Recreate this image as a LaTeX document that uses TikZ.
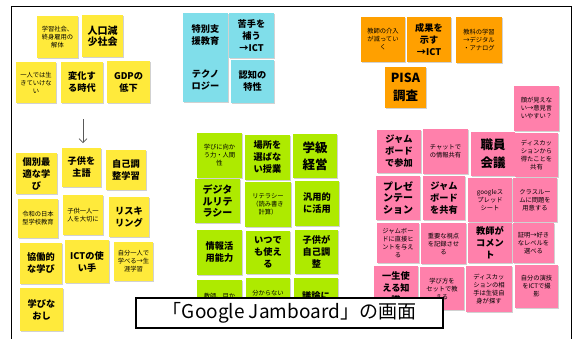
\documentclass[tikz,border=0pt]{standalone}
\usepackage{fontspec}
\setmainfont{Noto Sans CJK JP}
\usetikzlibrary{arrows.meta,shadows}
\definecolor{yel}{RGB}{255,234,59}
\definecolor{blu}{RGB}{128,222,234}
\definecolor{grn}{RGB}{174,234,0}
\definecolor{org}{RGB}{255,160,0}
\definecolor{pnk}{RGB}{255,128,171}
\newcommand\stickynote[7]{%
  \node[#1, minimum width={(#5-#3)*1pt}, minimum height={(#6-#4)*1pt}] (#2) at ({(#3+#5)/2},{(#4+#6)/2}) {#7};}
\tikzset{
  note/.style={draw=none, inner sep=0pt, align=center, text=black,
    drop shadow={shadow xshift=0.6pt, shadow yshift=-0.8pt, fill=black, opacity=0.18}},
  ynote/.style={note, fill=yel},
  bnote/.style={note, fill=blu},
  gnote/.style={note, fill=grn},
  onote/.style={note, fill=org},
  pnote/.style={note, fill=pnk},
  fsS/.style={font=\fontsize{6.3}{8}\selectfont},
  fsM/.style={font=\fontsize{9.2}{12}\selectfont\bfseries},
  fsML/.style={font=\fontsize{10}{11.5}\selectfont\bfseries},
  fsL/.style={font=\fontsize{12.5}{17.5}\selectfont\bfseries},
}
\begin{document}
\begin{tikzpicture}[x=1pt,y=-1pt]
\useasboundingbox[fill=white] (0,0) rectangle (573,338);
% frame
\coordinate (fbl) at (11.5,339);
\coordinate (ftl) at (11.5,6.5);
\coordinate (ftr) at (571.5,6.5);
\coordinate (fbr) at (571.5,339);
\draw[line width=1.2pt] (fbl) -- (ftl) -- (ftr) -- (fbr);
% yellow
\stickynote{ynote,fsS}{y1}{37}{16}{78}{58}{学習社会、\\終身雇用の\\解体}
\stickynote{ynote,fsML}{y2}{82}{15}{123}{57}{人口減\\少社会}
\stickynote{ynote,fsS}{y3}{16}{62}{56}{103}{一人では生\\きていけな\\い}
\stickynote{ynote,fsM}{y4}{61}{62}{103}{103}{変化す\\る時代}
\stickynote{ynote,fsM}{y5}{107}{61}{150}{103}{GDPの\\低下}
\coordinate (arS) at (83,119);
\coordinate (arE) at (83,143);
\draw[black!65, line width=0.6pt, -{Straight Barb[length=4pt,width=8pt]}] (arS) -- (arE);
\stickynote{ynote,fsM}{y6}{16}{153}{57}{194}{個別最\\適な学\\び}
\stickynote{ynote,fsM}{y7}{62}{148}{101}{187}{子供を\\主語}
\stickynote{ynote,fsM}{y8}{106}{150}{146}{190}{自己調\\整学習}
\stickynote{ynote,fsS}{y9}{18}{199}{58}{238}{令和の日本\\型学校教育}
\stickynote{ynote,fsS}{y10}{63}{195}{103}{235}{子供一人一\\人を大切に}
\stickynote{ynote,fsM}{y11}{109}{197}{149}{237}{リスキ\\リング}
\stickynote{ynote,fsM}{y12}{20}{243}{62}{284}{協働的\\な学び}
\stickynote{ynote,fsM}{y13}{65}{240}{109}{283}{ICTの使\\い手}
\stickynote{ynote,fsS}{y14}{114}{242}{153}{281}{自分一人で\\学べる→生\\涯学習}
\stickynote{ynote,fsM}{y15}{20}{288}{63}{331}{学びな\\おし}
% blue
\stickynote{bnote,fsM}{b1}{183}{13}{228}{58}{特別支\\援教育}
\stickynote{bnote,fsM}{b2}{229}{13}{274}{58}{苦手を\\補う\\→ICT}
\stickynote{bnote,fsM}{b3}{183}{58}{228}{102}{テクノ\\ロジー}
\stickynote{bnote,fsM}{b4}{231}{60}{274}{103}{認知の\\特性}
% green
\stickynote{gnote,fsS}{g1}{197}{133}{242}{178}{学びに向か\\う力・人間\\性}
\stickynote{gnote,fsM}{g2}{245}{135}{290}{180}{場所を\\選ばな\\い授業}
\stickynote{gnote,fsL}{g3}{293}{134}{337}{178}{学級\\経営}
\stickynote{gnote,fsML}{g4}{195}{179}{240}{223}{デジタ\\ルリテ\\ラシー}
\stickynote{gnote,fsS}{g5}{245}{182}{291}{227}{リテラシー\\（読み書き\\計算）}
\stickynote{gnote,fsM}{g6}{295}{181}{339}{226}{汎用的\\に活用}
\stickynote{gnote,fsM}{g7}{197}{230}{242}{275}{情報活\\用能力}
\stickynote{gnote,fsM}{g8}{246}{231}{290}{274}{いつで\\も使え\\る}
\stickynote{gnote,fsM}{g9}{295}{230}{338}{274}{子供が\\自己調\\整}
\stickynote{gnote}{g10}{197}{280}{242}{324}{}
\stickynote{gnote}{g11}{246}{278}{290}{323}{}
\stickynote{gnote}{g12}{294}{278}{338}{323}{}
\node[fsS] (g10t) at (219.5,296) {教師、目か};
\node[fsS] (g11t) at (268,293) {分からない};
\node[fsM] (g12t) at (316,296) {議論に};
% orange
\stickynote{onote,fsS}{o1}{361}{17}{405}{62}{教師の介入\\が減ってい\\く}
\stickynote{onote,fsM}{o2}{407}{17}{451}{62}{成果を\\示す\\→ICT}
\stickynote{onote,fsS}{o3}{456}{17}{502}{63}{教科の学習\\→デジタル\\・アナログ}
\stickynote{onote,fsL}{o4}{385}{67}{426}{108}{PISA\\調査}
% pink
\stickynote{pnote,fsS}{p1}{514}{86}{559}{131}{顔が見えな\\い→意見言\\いやすい？}
\stickynote{pnote,fsM}{p2}{377}{130}{421}{173}{ジャム\\ボード\\で参加}
\stickynote{pnote,fsS}{p3}{423}{129}{468}{174}{チャットで\\の情報共有}
\stickynote{pnote,fsL}{p4}{471}{132}{515}{176}{職員\\会議}
\stickynote{pnote,fsS}{p5}{515}{133}{558}{177}{ディスカッ\\ションから\\得たことを\\共有}
\stickynote{pnote,fsML}{p6}{376}{176}{420}{220}{プレゼ\\ンテー\\ション}
\stickynote{pnote,fsM}{p7}{423}{176}{465}{220}{ジャム\\ボード\\を共有}
\stickynote{pnote,fsS}{p8}{468}{178}{512}{222}{googleス\\プレッド\\シート}
\stickynote{pnote,fsS}{p9}{513}{178}{557}{222}{クラスルー\\ムに問題を\\用意する}
\stickynote{pnote,fsS}{p10}{377}{223}{419}{263}{ジャムボー\\ドに直接ヒ\\ントを与え\\る}
\stickynote{pnote,fsS}{p11}{421}{223}{466}{264}{重要な視点\\を記録させ\\る}
\stickynote{pnote,fsM}{p12}{468}{223}{512}{263}{教師が\\コメン\\ト}
\stickynote{pnote,fsS}{p13}{513}{223}{554}{263}{証明→好き\\なレベルを\\選べる}
\stickynote{pnote,fsM}{p14}{374}{266}{418}{311}{一生使\\える知\\識}
\stickynote{pnote,fsS}{p15}{420}{267}{464}{310}{学び方を\\セットで教\\える}
\stickynote{pnote,fsS}{p16}{466}{266}{512}{312}{ディスカッ\\ションの相\\手は生徒自\\身が探す}
\stickynote{pnote,fsS}{p17}{515}{265}{558}{308}{自分の演技\\をICTで撮\\影}
% caption
\node[draw=black, line width=1.6pt, fill=white, minimum width=307pt, minimum height=30pt, inner sep=0pt,
  font=\fontsize{19}{22}\selectfont] (cap) at (289.5,313) {「Google Jamboard」の画面};
\end{tikzpicture}
\end{document}
